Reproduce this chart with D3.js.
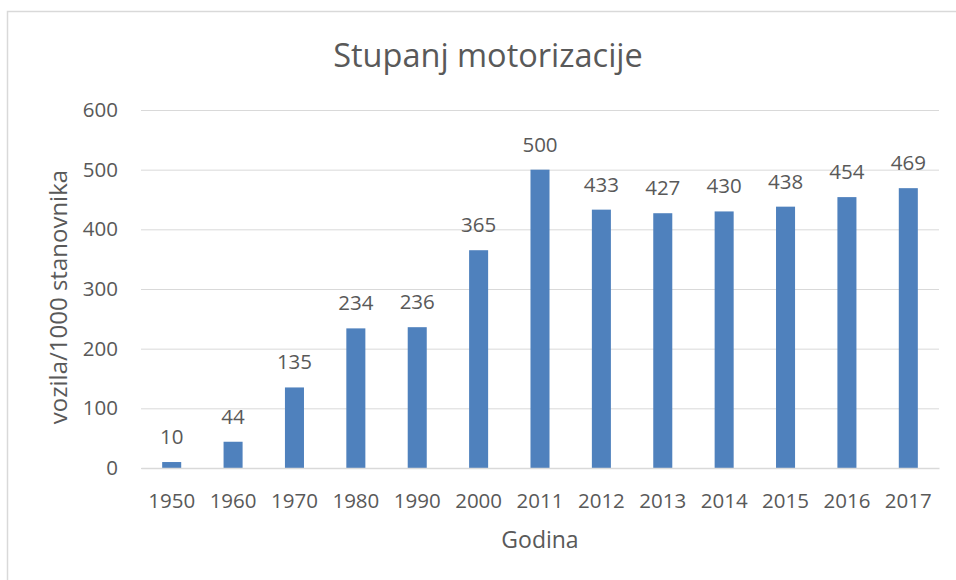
<!DOCTYPE html>
<html><head><meta charset="utf-8">
<script src="https://cdn.jsdelivr.net/npm/d3@7"></script>
<style>body{margin:0;background:#fff}svg{display:block}text{font-family:"Open Sans",sans-serif;fill:#595959}</style>
</head><body><svg id="c" width="956" height="580"></svg>
<script>
const years = ["1950","1960","1970","1980","1990","2000","2011","2012","2013","2014","2015","2016","2017"];
const values = [10,44,135,234,236,365,500,433,427,430,438,454,469];
const yTicks = [0,100,200,300,400,500,600];
const title = "Stupanj motorizacije";
const xTitle = "Godina";
const yTitle = "vozila/1000 stanovnika";

const svg = d3.select("#c");
svg.append("path").attr("d","M7.5,600V11.5H956").attr("fill","none").attr("stroke","#d9d9d9").attr("stroke-width",1.5);

const L=141, R=939, T=110, B=468;
const x = d3.scaleBand().domain(years).range([L,R]).paddingInner(0.69).paddingOuter(0.345);
const y = d3.scaleLinear().domain([0,600]).range([B,T]);

const yAxis = svg.append("g").attr("transform",`translate(${L},0)`)
  .call(d3.axisLeft(y).tickValues(yTicks).tickSize(-(R-L)).tickPadding(23));
yAxis.select(".domain").remove();
yAxis.selectAll("line").attr("stroke","#d9d9d9").attr("stroke-width",1);
yAxis.selectAll("text").style("font-size","20.5px").attr("fill","#595959");

svg.append("g").selectAll("rect").data(values).join("rect")
  .attr("x",(d,i)=>x(years[i])).attr("width",x.bandwidth())
  .attr("y",d=>y(d)).attr("height",d=>B-y(d)).attr("fill","#4f81bd");

const xAxis = svg.append("g").attr("transform",`translate(0,${B})`)
  .call(d3.axisBottom(x).tickSize(0).tickPadding(25));
xAxis.select(".domain").attr("stroke","#d9d9d9").attr("stroke-width",1.5);
xAxis.selectAll("text").style("font-size","20.5px").attr("fill","#595959");

svg.append("g").selectAll("text").data(values).join("text")
  .attr("x",(d,i)=>x(years[i])+x.bandwidth()/2).attr("y",d=>y(d)-18)
  .attr("text-anchor","middle").style("font-size","20.5px").text(d=>d);

svg.append("text").attr("x",488).attr("y",67).attr("text-anchor","middle").style("font-size","32.5px").text(title);
svg.append("text").attr("x",540).attr("y",548).attr("text-anchor","middle").style("font-size","23px").text(xTitle);
svg.append("text").attr("transform",`translate(59,297) rotate(-90)`).attr("dy","0.35em").attr("text-anchor","middle").style("font-size","24px").text(yTitle);
</script></body></html>
